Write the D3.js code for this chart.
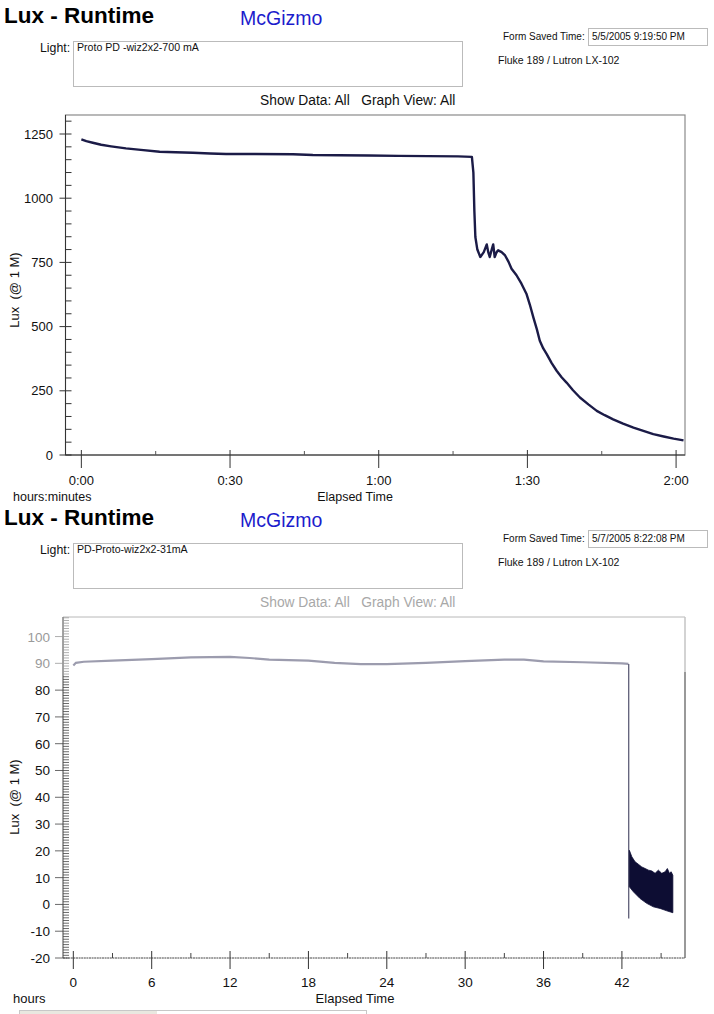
<!DOCTYPE html>
<html>
<head>
<meta charset="utf-8">
<script src="https://cdn.jsdelivr.net/npm/d3@7"></script>
<style>
  html, body { margin: 0; padding: 0; background: #fff; }
  svg { display: block; font-family: "Liberation Sans", Arial, sans-serif; }
</style>
</head>
<body>
<svg id="chart" width="714" height="1014"></svg>
<script>
// ---------------- DATA ----------------
// Chart 1: Proto PD -wiz2x2-700 mA (time in minutes, lux)
const topMinutes = [0,1,2.3,4,6,9,12,15.8,19,22.5,26,29.2,35,42.7,46.7,52,58,64,70,76,78.8,79.1,79.3,79.5,79.9,80.5,81.2,81.8,82.1,82.4,82.8,83.1,83.4,83.8,84.1,84.8,85.5,86.2,86.8,87.8,88.8,89.8,90.5,91.2,91.9,92.5,93.2,93.9,94.9,95.9,96.9,97.9,99.2,100.6,102.3,104.0,105.6,107.3,109.3,111.4,113.4,115.4,117.5,119.5,121.5];
const topLux =     [1229,1222,1216,1208,1202,1194,1188,1181,1179,1177,1174,1172,1172,1171,1168,1167,1166,1165,1164,1163,1161,1100,950,849,800,771,790,820,790,771,800,820,771,790,797,790,777,752,725,700,667,628,585,536,490,445,415,393,358,328,303,282,252,224,197,172,155,139,122,107,94,81,72,64,57];
const topYTicks = [0,250,500,750,1000,1250];
const topXTicks = [0,30,60,90,120];
const topXTickLabels = ["0:00","0:30","1:00","1:30","2:00"];

// Chart 2: PD-Proto-wiz2x2-31mA (time in hours, lux)
const botHours = [0,0.2,0.8,3,6,9,12,13.5,15,18,20,22,24,27,30,33,34.5,36,39,42,42.5];
const botLux =   [89.2,90.2,90.6,91.0,91.6,92.2,92.4,92.0,91.4,91.0,90.2,89.7,89.7,90.2,90.8,91.4,91.4,90.7,90.4,90.0,89.8];
const dropHours = [42.52,42.52];
const dropLux = [89.8,-5.3];
const bandHours = [42.57,42.76,43.01,43.26,43.52,43.78,44.03,44.29,44.54,44.79,45.05,45.31,45.48,45.64,45.77,45.90];
const bandUpper = [20.2,17.8,15.9,15.0,14.0,13.4,12.8,12.5,11.6,12.8,11.6,12.2,13.4,11.6,12.2,10.9];
const bandLowHours = [42.57,42.88,43.39,43.90,44.41,44.92,45.44,45.90];
const bandLower = [6.6,4.7,2.2,0.4,-0.9,-1.5,-2.4,-3.1];
const botYTicks = [-20,-10,0,10,20,30,40,50,60,70,80,90,100];
const botXTicks = [0,6,12,18,24,30,36,42];

const headers = [
  {y:0,   light:"Proto PD -wiz2x2-700 mA", saved:"5/5/2005 9:19:50 PM", showColor:"#111"},
  {y:502, light:"PD-Proto-wiz2x2-31mA",    saved:"5/7/2005 8:22:08 PM", showColor:"#a8a8a8"}
];

// ---------------- DRAW ----------------
const svg = d3.select("#chart");

headers.forEach(h => {
  const g = svg.append("g").attr("transform", `translate(0,${h.y})`);
  g.append("text").attr("x", 4).attr("y", 23).attr("font-size", 22.5).attr("font-weight", "bold")
    .attr("fill", "#000").text("Lux - Runtime");
  g.append("text").attr("x", 240).attr("y", 25).attr("font-size", 19.5).attr("fill", "#1c1ccc").text("McGizmo");
  g.append("text").attr("x", 503).attr("y", 40).attr("font-size", 10).attr("fill", "#111").text("Form Saved Time:");
  g.append("rect").attr("x", 588.5).attr("y", 28.5).attr("width", 119).attr("height", 17)
    .attr("fill", "none").attr("stroke", "#777").attr("stroke-dasharray", "1,1");
  g.append("text").attr("x", 592).attr("y", 40).attr("font-size", 10).attr("fill", "#111").text(h.saved);
  g.append("text").attr("x", 498).attr("y", 64).attr("font-size", 10.5).attr("fill", "#111").text("Fluke 189 / Lutron LX-102");
  g.append("text").attr("x", 40).attr("y", 52).attr("font-size", 12.3).attr("fill", "#111").text("Light:");
  g.append("rect").attr("x", 73.5).attr("y", 41.5).attr("width", 389).attr("height", 45)
    .attr("fill", "none").attr("stroke", "#777").attr("stroke-dasharray", "1,1");
  g.append("text").attr("x", 77).attr("y", 51).attr("font-size", 10.6).attr("fill", "#111").text(h.light);
  g.append("text").attr("x", 260).attr("y", 105).attr("font-size", 13.8).attr("fill", h.showColor)
    .attr("xml:space", "preserve").text("Show Data: All   Graph View: All");
});

// ---------- Chart 1 ----------
{
  const L = 65.5, R = 685, T = 115, B = 455;
  const x = d3.scaleLinear().domain([-3.2, 121.8]).range([L, R]);
  const y = d3.scaleLinear().domain([0, 1324]).range([B, T]);
  svg.append("rect").attr("x", L).attr("y", T).attr("width", R-L).attr("height", B-T)
    .attr("fill", "none").attr("stroke", "#8a8a8a").attr("stroke-width", 1.2);
  svg.append("line").attr("x1", L).attr("x2", R).attr("y1", B).attr("y2", B).attr("stroke", "#333");
  svg.append("line").attr("x1", L).attr("x2", L).attr("y1", T).attr("y2", B).attr("stroke", "#333");
  d3.range(0, 1301, 50).forEach(v => {
    const major = v % 250 === 0;
    svg.append("line").attr("x1", major ? L-6 : L).attr("x2", L+6).attr("y1", y(v)).attr("y2", y(v))
      .attr("stroke", "#333");
  });
  topYTicks.forEach(v => {
    svg.append("text").attr("x", 53).attr("y", y(v)+4.5).attr("text-anchor", "end")
      .attr("font-size", 13).attr("fill", "#111").text(v);
  });
  topXTicks.forEach((v, i) => {
    svg.append("line").attr("x1", x(v)).attr("x2", x(v)).attr("y1", B-5).attr("y2", B+13).attr("stroke", "#333");
    svg.append("text").attr("x", x(v)).attr("y", 485).attr("text-anchor", "middle")
      .attr("font-size", 13).attr("fill", "#111").text(topXTickLabels[i]);
    if (i < topXTicks.length-1) {
      const m = v + 15;
      svg.append("line").attr("x1", x(m)).attr("x2", x(m)).attr("y1", B-4).attr("y2", B).attr("stroke", "#555");
    }
  });
  svg.append("text").attr("x", 13).attr("y", 501).attr("font-size", 12.5).attr("fill", "#111").text("hours:minutes");
  svg.append("text").attr("x", 355).attr("y", 501).attr("text-anchor", "middle").attr("font-size", 12.5).attr("fill", "#111").text("Elapsed Time");
  svg.append("text").attr("transform", "translate(19,290) rotate(-90)").attr("text-anchor", "middle")
    .attr("font-size", 13).attr("fill", "#111").attr("xml:space", "preserve").text("Lux  (@ 1 M)");
  const line = d3.line().x((d, i) => x(topMinutes[i])).y(d => y(d));
  svg.append("path").datum(topLux).attr("d", line).attr("fill", "none")
    .attr("stroke", "#1b1b47").attr("stroke-width", 2.4).attr("stroke-linejoin", "round");
}

// ---------- Chart 2 ----------
{
  const L = 63, R = 685, T = 617, B = 958;
  const x = d3.scaleLinear().domain([-0.79, 46.83]).range([L, R]);
  const y = d3.scaleLinear().domain([-20, 107.3]).range([B, T]);
  svg.append("line").attr("x1", L).attr("x2", R).attr("y1", T).attr("y2", T).attr("stroke", "#b8b8b8");
  svg.append("line").attr("x1", R).attr("x2", R).attr("y1", T).attr("y2", 672).attr("stroke", "#c4c4c4").attr("stroke-width", 1.5);
  svg.append("line").attr("x1", R).attr("x2", R).attr("y1", 672).attr("y2", B).attr("stroke", "#777").attr("stroke-width", 1.5);
  svg.append("line").attr("x1", L).attr("x2", L).attr("y1", T).attr("y2", B).attr("stroke", "#444");
  svg.append("line").attr("x1", L).attr("x2", R).attr("y1", B).attr("y2", B).attr("stroke", "#444").attr("stroke-dasharray", "2,0.6");
  d3.range(-20, 108, 1).forEach(v => {
    const major = v % 10 === 0;
    svg.append("line").attr("x1", major ? L-8 : L).attr("x2", L+6).attr("y1", y(v)).attr("y2", y(v))
      .attr("stroke", v >= 86 ? "#999" : "#444").attr("stroke-width", 0.8);
  });
  botYTicks.forEach(v => {
    svg.append("text").attr("x", 50).attr("y", y(v)+5).attr("text-anchor", "end")
      .attr("font-size", 13.5).attr("fill", v >= 90 ? "#9a9a9a" : "#111").text(v);
  });
  botXTicks.forEach((v, i) => {
    svg.append("line").attr("x1", x(v)).attr("x2", x(v)).attr("y1", B-7).attr("y2", B+11).attr("stroke", "#333");
    svg.append("text").attr("x", x(v)).attr("y", 987).attr("text-anchor", "middle")
      .attr("font-size", 13.5).attr("fill", "#111").text(v);
    const m = v + 3;
    svg.append("line").attr("x1", x(m)).attr("x2", x(m)).attr("y1", B-5).attr("y2", B).attr("stroke", "#444");
  });
  svg.append("text").attr("x", 13).attr("y", 1003).attr("font-size", 13).attr("fill", "#111").text("hours");
  svg.append("text").attr("x", 355).attr("y", 1003).attr("text-anchor", "middle").attr("font-size", 13).attr("fill", "#111").text("Elapsed Time");
  svg.append("text").attr("transform", "translate(19,797) rotate(-90)").attr("text-anchor", "middle")
    .attr("font-size", 13).attr("fill", "#111").attr("xml:space", "preserve").text("Lux  (@ 1 M)");

  const line = d3.line().x((d, i) => x(botHours[i])).y(d => y(d));
  svg.append("path").datum(botLux).attr("d", line).attr("fill", "none")
    .attr("stroke", "#9c9cae").attr("stroke-width", 2.2);
  const dline = d3.line().x((d, i) => x(dropHours[i])).y(d => y(d));
  svg.append("path").datum(dropLux).attr("d", dline).attr("fill", "none")
    .attr("stroke", "#5e5e78").attr("stroke-width", 1.3);
  const upperPts = bandHours.map((h, i) => [x(h), y(bandUpper[i])]);
  const lowerPts = bandLowHours.map((h, i) => [x(h), y(bandLower[i])]).reverse();
  svg.append("path").attr("d", d3.line()(upperPts.concat(lowerPts)) + "Z")
    .attr("fill", "#0d0d33").attr("stroke", "#0d0d33").attr("stroke-width", 0.8);
}

svg.append("rect").attr("x", 19.5).attr("y", 1010.5).attr("width", 347).attr("height", 10)
  .attr("fill", "#fff").attr("stroke", "#c8c8c8");
svg.append("rect").attr("x", 20).attr("y", 1011).attr("width", 137).attr("height", 9).attr("fill", "#e9e8e0");
</script>
</body>
</html>
